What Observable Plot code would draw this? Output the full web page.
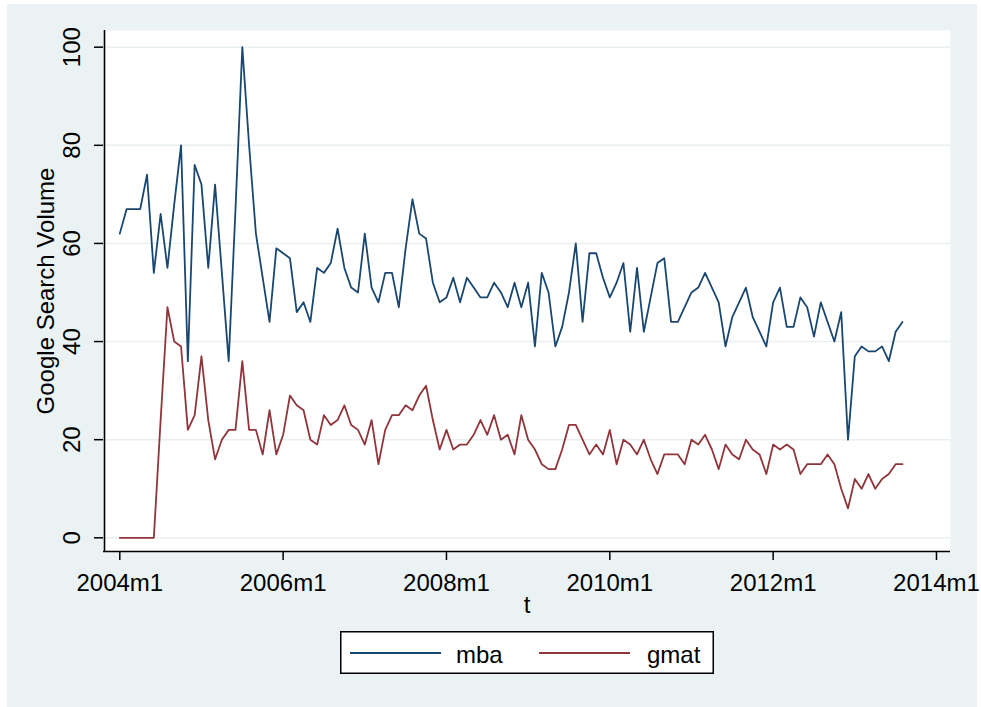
<!DOCTYPE html>
<html>
<head>
<meta charset="utf-8">
<script src="https://cdn.jsdelivr.net/npm/d3@7"></script>
<script src="https://cdn.jsdelivr.net/npm/@observablehq/plot@0.6"></script>
<style>
  html, body { margin: 0; padding: 0; background: #ffffff; }
  body { width: 981px; height: 707px; position: relative; overflow: hidden;
         font-family: "Liberation Sans", Arial, sans-serif; }
  #bg { position: absolute; left: 7px; top: 4px; width: 970px; height: 703px; background: #EAF2F3; }
  #chart { position: absolute; left: 0; top: 0; }
  #legend { position: absolute; left: 333px; top: 627px; }
</style>
</head>
<body>
<div id="bg">
  <div id="chart"></div>
  <div id="legend"></div>
</div>
<script>
// ---- data (monthly, starting 2004m1) ----
const mba = [62,67,67,67,74,54,66,55,68,80,36,76,72,55,72,54,36,67,100,80,
             62,53,44,59,58,57,46,48,44,55,54,56,63,55,51,50,62,51,48,54,
             54,47,59,69,62,61,52,48,49,53,48,53,51,49,49,52,50,47,52,47,
             52,39,54,50,39,43,50,60,44,58,58,53,49,52,56,42,55,42,49,56,
             57,44,44,47,50,51,54,51,48,39,45,48,51,45,42,39,48,51,43,43,
             49,47,41,48,44,40,46,20,37,39,38,38,39,36,42,44];
const gmat = [0,0,0,0,0,0,24,47,40,39,22,25,37,24,16,20,22,22,36,22,
              22,17,26,17,21,29,27,26,20,19,25,23,24,27,23,22,19,24,15,22,
              25,25,27,26,29,31,24,18,22,18,19,19,21,24,21,25,20,21,17,25,
              20,18,15,14,14,18,23,23,20,17,19,17,22,15,20,19,17,20,16,13,
              17,17,17,15,20,19,21,18,14,19,17,16,20,18,17,13,19,18,19,18,
              13,15,15,15,17,15,10,6,12,10,13,10,12,13,15,15];
const seriesNames = ["mba", "gmat"];
const seriesColors = ["#1a476f", "#90353b"];
const xTickMonths = [0, 24, 48, 72, 96, 120];
const xTickLabels = ["2004m1", "2006m1", "2008m1", "2010m1", "2012m1", "2014m1"];
const yTicks = [0, 20, 40, 60, 80, 100];
const xTitle = "t";
const yTitle = "Google Search Volume";

// table built from the arrays
const rows = [];
mba.forEach((v, i) => rows.push({t: i, value: v, series: "mba"}));
gmat.forEach((v, i) => rows.push({t: i, value: v, series: "gmat"}));

const xDomain = [-2.395, 122.06];
const yDomain = [-2.79, 103.4];
const font = "'Liberation Sans', Arial, sans-serif";

const chart = Plot.plot({
  width: 970,
  height: 615,
  marginLeft: 96,
  marginRight: 27,
  marginTop: 26,
  marginBottom: 68,
  style: {background: "transparent", fontFamily: font, fontSize: "24px", overflow: "visible", color: "#000"},
  x: {domain: xDomain, label: null},
  y: {domain: yDomain, label: null},
  color: {domain: seriesNames, range: seriesColors},
  marks: [
    Plot.frame({fill: "white", stroke: null}),
    Plot.ruleY(yTicks, {stroke: "#E8F0F2", strokeWidth: 1.6}),
    Plot.line(rows, {x: "t", y: "value", z: "series", stroke: "series", strokeWidth: 1.8}),
    Plot.ruleX([xDomain[0]], {stroke: "#000", strokeWidth: 1.6, dx: 1}),
    Plot.ruleY([yDomain[0]], {stroke: "#000", strokeWidth: 1.6}),
    Plot.axisX(xTickMonths, {tickSize: 9, tickPadding: 13, strokeWidth: 1.5, label: null,
      tickFormat: d => xTickLabels[xTickMonths.indexOf(d)]}),
    Plot.axisY(yTicks, {tickSize: 9, strokeWidth: 1.5, label: null, tickFormat: () => ""}),
    Plot.text(yTicks, {y: d => d, text: d => String(d), frameAnchor: "left", rotate: -90,
      dx: -31, textAnchor: "middle", lineAnchor: "middle"}),
    Plot.text([yTitle], {text: d => d, frameAnchor: "left", rotate: -90, dx: -57,
      textAnchor: "middle", lineAnchor: "middle"}),
    Plot.text([xTitle], {text: d => d, frameAnchor: "bottom", lineAnchor: "bottom", dy: 61})
  ]
});
document.getElementById("chart").appendChild(chart);

// ---- legend ----
const lw = 374, lh = 43;
const lsvg = d3.select("#legend").append("svg")
  .attr("width", lw).attr("height", lh)
  .style("display", "block")
  .style("font-family", font).style("font-size", "24px");
lsvg.append("rect").attr("x", 0.75).attr("y", 0.75).attr("width", lw - 1.5).attr("height", lh - 1.5)
  .attr("fill", "white").attr("stroke", "#000").attr("stroke-width", 1.5);
const swatchX = [10, 199], textX = [116, 307];
seriesNames.forEach((name, i) => {
  lsvg.append("line").attr("x1", swatchX[i]).attr("x2", swatchX[i] + 91)
    .attr("y1", 22).attr("y2", 22).attr("stroke", seriesColors[i]).attr("stroke-width", 2.2);
  lsvg.append("text").attr("x", textX[i]).attr("y", 32).attr("fill", "#000").text(name);
});
</script>
</body>
</html>
